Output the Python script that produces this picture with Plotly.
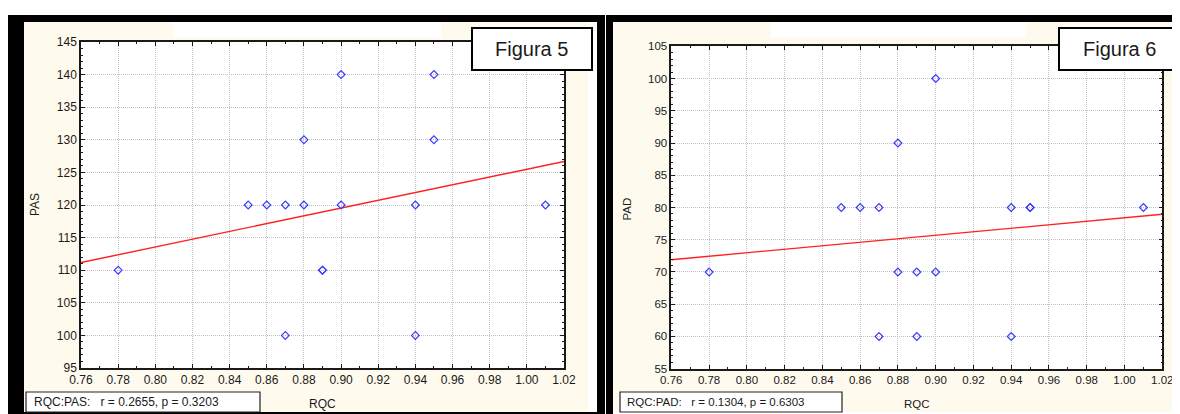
import numpy as np
import plotly.graph_objects as go

# ---------------- data ----------------
rqc_fig5 = [0.78, 0.85, 0.86, 0.87, 0.87, 0.88, 0.88, 0.89, 0.89, 0.90, 0.90, 0.94, 0.94, 0.95, 0.95, 1.01]
pas_vals = [110, 120, 120, 120, 100, 130, 120, 110, 110, 140, 120, 120, 100, 140, 130, 120]

rqc_fig6 = [0.78, 0.85, 0.86, 0.87, 0.87, 0.88, 0.88, 0.89, 0.89, 0.90, 0.90, 0.94, 0.94, 0.95, 0.95, 1.01]
pad_vals = [70, 80, 80, 80, 60, 90, 70, 70, 60, 100, 70, 80, 60, 80, 80, 80]

x_ticks = [0.76, 0.78, 0.80, 0.82, 0.84, 0.86, 0.88, 0.90, 0.92, 0.94, 0.96, 0.98, 1.00, 1.02]
x_tick_text = ["0.76", "0.78", "0.80", "0.82", "0.84", "0.86", "0.88", "0.90", "0.92", "0.94", "0.96", "0.98", "1.00", "1.02"]
pas_ticks = [95, 100, 105, 110, 115, 120, 125, 130, 135, 140, 145]
pad_ticks = [55, 60, 65, 70, 75, 80, 85, 90, 95, 100, 105]

x_range = [0.76, 1.02]
pas_range = [95, 145]
pad_range = [55, 105]

title5 = "Figura 5"
title6 = "Figura 6"
stats5 = "RQC:PAS:\u00a0\u00a0\u00a0r = 0.2655, p = 0.3203"
stats6 = "RQC:PAD:\u00a0\u00a0\u00a0r = 0.1304, p = 0.6303"
x_title = "RQC"
y_title5 = "PAS"
y_title6 = "PAD"

# ---------------- geometry (pixels) ----------------
W, H = 1180, 414
FONT = "Liberation Sans, Arial, sans-serif"
CREAM = "#FFFAEE"


def px(x):
    return x / W


def py(y):
    return 1 - y / H


def rect(x0, y0, x1, y1, fill, line_color=None, line_width=0, layer="below"):
    return dict(type="rect", xref="paper", yref="paper",
                x0=px(x0), x1=px(x1), y0=py(y1), y1=py(y0),
                fillcolor=fill, layer=layer,
                line=dict(color=line_color or fill, width=line_width))


P1 = dict(l=73, r=556, t=34, b=360)
P2 = dict(l=663.3, r=1154.3, t=38.3, b=360.7)

shapes = [
    rect(0, 7, W, H, "black"),
    rect(16, 14, 580, 404, CREAM),
    rect(580, 14, 589, 404, "white"),
    rect(597, 0, 598, H, "white"),
    rect(605, 14, 1173, 404, CREAM),
    rect(1173, 14, W, 406, "white"),
    rect(605, 404, W, 406, "white"),
    rect(165, 14, 433, 30, "white"),
    rect(763, 14, 1018, 30, "white"),
    rect(P1["l"], P1["t"], P1["r"], P1["b"], "white"),
    rect(P2["l"], P2["t"], P2["r"], P2["b"], "white"),
    # title boxes
    rect(464, 20, 584, 62, "white", "black", 2, "above"),
    rect(1051, 20, 1171, 62, "white", "black", 2, "above"),
    # stats boxes
    rect(18, 384, 252, 404, "white", "#222222", 1.2, "above"),
    rect(612, 384, 834, 404, "white", "#222222", 1.2, "above"),
]

fig = go.Figure()


def add_panel(xs, ys, xa, ya):
    xs_a = np.array(xs, dtype=float)
    ys_a = np.array(ys, dtype=float)
    slope, intercept = np.polyfit(xs_a, ys_a, 1)
    lx = np.array(x_range)
    fig.add_trace(go.Scatter(x=lx, y=slope * lx + intercept, mode="lines",
                             line=dict(color="#ff2020", width=1.4),
                             xaxis=xa, yaxis=ya, hoverinfo="skip"))
    fig.add_trace(go.Scatter(x=xs, y=ys, mode="markers",
                             marker=dict(symbol="diamond-open", size=6,
                                         color="#3a3aff", line=dict(width=1.2, color="#3a3aff")),
                             xaxis=xa, yaxis=ya))


add_panel(rqc_fig5, pas_vals, "x", "y")
add_panel(rqc_fig6, pad_vals, "x2", "y2")


def axis_common(fs):
    return dict(showline=True, linecolor="#1a1a1a", linewidth=1.5, mirror="allticks",
                ticks="inside", ticklen=4, tickwidth=1, tickcolor="#1a1a1a",
                showgrid=True, gridcolor="#c2c2c2", griddash="1px,1px", gridwidth=1,
                zeroline=False, fixedrange=True,
                tickfont=dict(family=FONT, size=fs, color="#1a1a1a"))


def xaxis(domain, anchor, fs):
    d = axis_common(fs)
    d.update(domain=domain, anchor=anchor, range=x_range, tickmode="array",
             tickvals=x_ticks, ticktext=x_tick_text,
             minor=dict(ticks="inside", ticklen=2, tick0=0.76, dtick=0.01,
                        tickcolor="#1a1a1a", showgrid=False))
    return d


def yaxis(domain, anchor, rng, ticks, fs):
    d = axis_common(fs)
    d.update(domain=domain, anchor=anchor, range=rng, tickmode="array",
             tickvals=ticks, ticktext=[str(t) for t in ticks],
             minor=dict(ticks="inside", ticklen=2, tick0=rng[0], dtick=1,
                        tickcolor="#1a1a1a", showgrid=False))
    return d


ann = []


def text(x, y, s, size, xanchor="center", angle=0):
    ann.append(dict(xref="paper", yref="paper", x=px(x), y=py(y), text=s,
                    showarrow=False, xanchor=xanchor, yanchor="middle", textangle=angle,
                    font=dict(family=FONT, size=size, color="#1a1a1a")))


text(523, 41, title5, 20)
text(1111, 41, title6, 20)
text(24, 394, stats5, 12, "left")
text(617, 394, stats6, 11.5, "left")
text((P1["l"] + P1["r"]) / 2, 395.5, x_title, 12)
text((P2["l"] + P2["r"]) / 2, 396, x_title, 11.5)
text(27, (P1["t"] + P1["b"]) / 2, y_title5, 12, angle=-90)
text(619, (P2["t"] + P2["b"]) / 2 + 2, y_title6, 11.5, angle=-90)

fig.update_layout(
    width=W, height=H,
    margin=dict(l=0, r=0, t=0, b=0, autoexpand=False),
    paper_bgcolor="white", plot_bgcolor="rgba(0,0,0,0)",
    showlegend=False,
    xaxis=xaxis([px(P1["l"]), px(P1["r"])], "y", 12),
    yaxis=yaxis([py(P1["b"]), py(P1["t"])], "x", pas_range, pas_ticks, 12),
    xaxis2=xaxis([px(P2["l"]), px(P2["r"])], "y2", 11.5),
    yaxis2=yaxis([py(P2["b"]), py(P2["t"])], "x2", pad_range, pad_ticks, 11.5),
    shapes=shapes,
    annotations=ann,
)

fig.write_html("out.html")
